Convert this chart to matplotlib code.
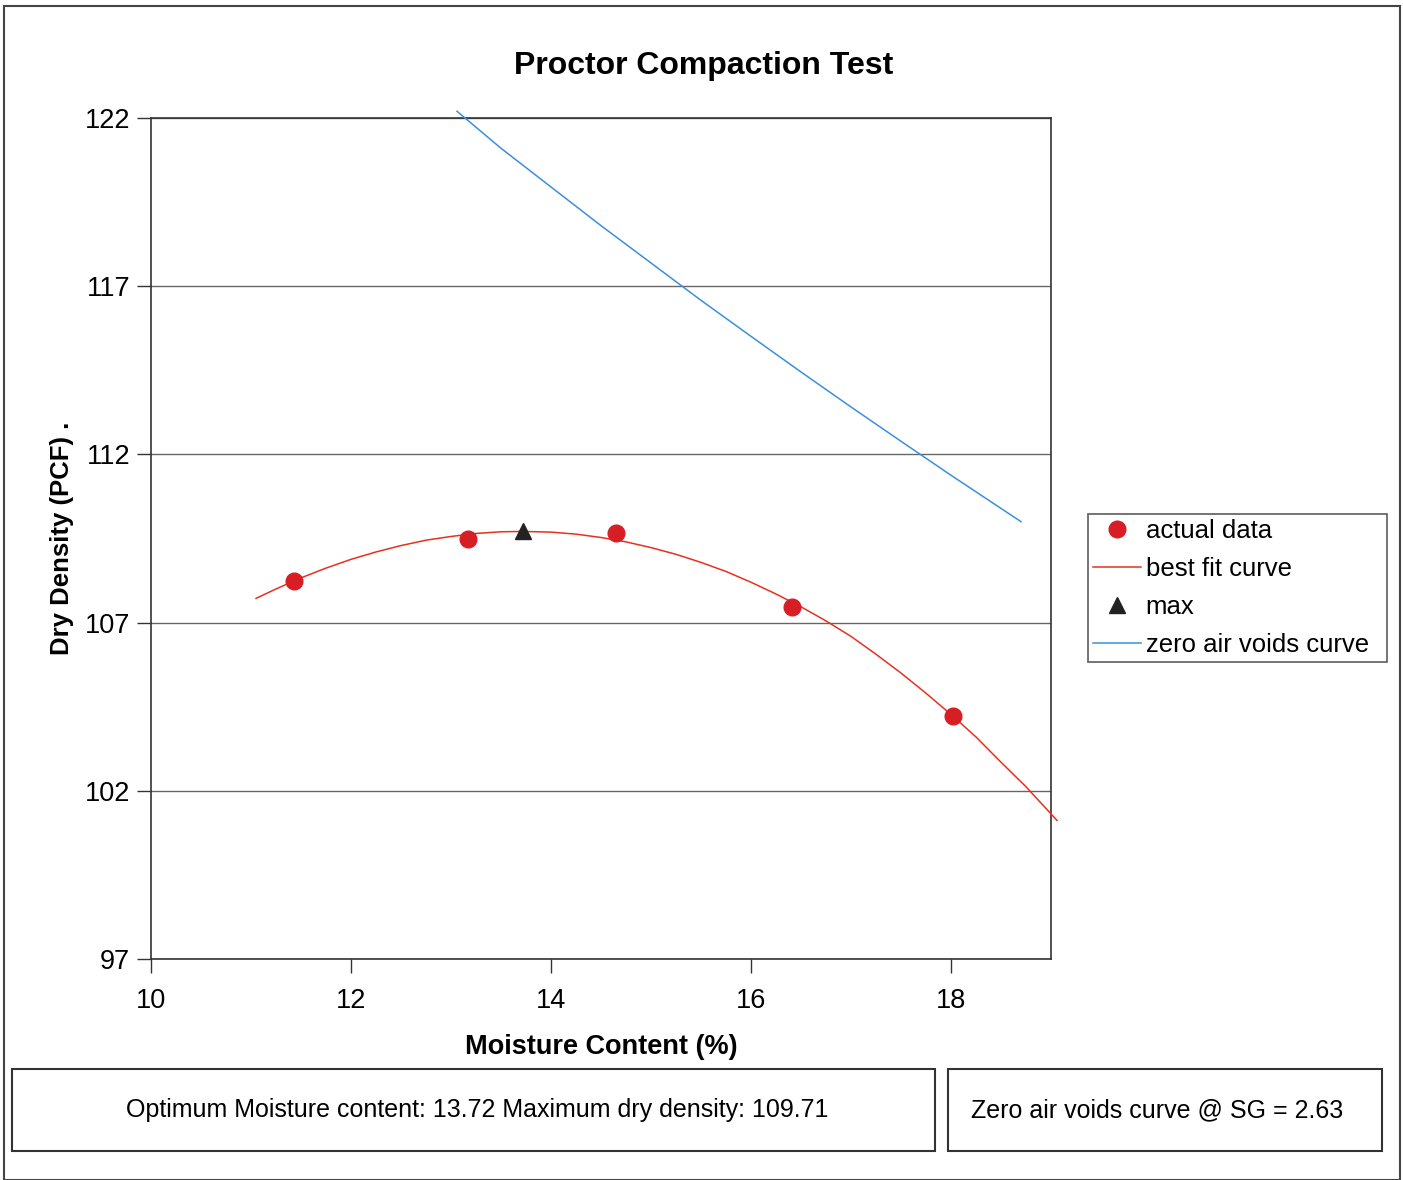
import matplotlib
matplotlib.use("Agg")
import matplotlib.pyplot as plt
from matplotlib.patches import Rectangle

plt.rcParams['font.family'] = ['Liberation Sans', 'DejaVu Sans']

# measured points
moisture = [11.43, 13.17, 14.65, 16.41, 18.02]
density = [108.25, 109.50, 109.67, 107.47, 104.23]

# best fit curve
fit_x = [11.05, 11.25, 11.5, 11.75, 12.0, 12.25, 12.5, 12.75, 13.0, 13.25,
         13.5, 13.72, 14.0, 14.25, 14.5, 14.75, 15.0, 15.25, 15.5, 15.75,
         16.0, 16.25, 16.5, 16.75, 17.0, 17.25, 17.5, 17.75, 18.0, 18.25,
         18.5, 18.75, 19.06]
fit_y = [107.72, 108.00, 108.33, 108.62, 108.88, 109.10, 109.29, 109.45,
         109.56, 109.65, 109.70, 109.71, 109.69, 109.63, 109.53, 109.40,
         109.23, 109.03, 108.79, 108.52, 108.20, 107.85, 107.47, 107.05,
         106.59, 106.06, 105.50, 104.90, 104.27, 103.60, 102.85, 102.12,
         101.12]

max_x = [13.72]
max_y = [109.71]

# zero air voids curve (SG = 2.63)
zav_x = [13.06, 13.5, 14.0, 14.5, 15.0, 15.5, 16.0, 16.5, 17.0, 17.5, 18.0, 18.7]
zav_y = [122.2, 121.1, 119.95, 118.8, 117.69, 116.58, 115.51, 114.45,
         113.41, 112.39, 111.38, 110.0]

x_ticks = [10, 12, 14, 16, 18]
y_ticks = [97, 102, 107, 112, 117, 122]

W, H = 1403, 1180
fig = plt.figure(figsize=(W / 100, H / 100), dpi=100)
ax = fig.add_axes([151 / W, 1 - 959 / H, 900 / W, 841 / H])

ax.plot(moisture, density, 'o', color='#d81e25', markersize=12,
        label='actual data', zorder=4)
ax.plot(fit_x, fit_y, '-', color='#e8301f', lw=1.1, label='best fit curve',
        clip_on=False, zorder=3)
ax.plot(max_x, max_y, '^', color='#222222', markersize=12, label='max', zorder=5)
ax.plot(zav_x, zav_y, '-', color='#3c8ee0', lw=1.1,
        label='zero air voids curve', clip_on=False, zorder=3)

ax.set_xlim(10, 19)
ax.set_ylim(97, 122)
ax.set_xticks(x_ticks)
ax.set_yticks(y_ticks)
ax.tick_params(labelsize=19.5, length=10, width=1, color='#333333')
ax.tick_params(axis='y', pad=5)
ax.tick_params(axis='x', pad=11)
ax.grid(axis='y', color='#666666', lw=1)
for s in ax.spines.values():
    s.set_color('#333333')
    s.set_linewidth(1.2)

fig.text(704 / W, 1 - 66 / H, 'Proctor Compaction Test', fontsize=23,
         fontweight='bold', ha='center', va='center')
ax.set_xlabel('Moisture Content (%)', fontsize=19.5, fontweight='bold', labelpad=14)
ax.set_ylabel('Dry Density (PCF) .', fontsize=18.5, fontweight='bold', labelpad=8)

leg = ax.legend(loc='center left', bbox_to_anchor=(1088 / W, 1 - 665 / H, 299 / W, 154 / H),
                bbox_transform=fig.transFigure, fontsize=18.5, frameon=True,
                fancybox=False, edgecolor='#333333', borderpad=0.2,
                labelspacing=0.55, handlelength=1.85, handletextpad=0.2,
                mode='expand', borderaxespad=0)
leg.get_frame().set_linewidth(1.2)

# outer frame and bottom info boxes
fig.patches.append(Rectangle((4 / W, 0), 1396 / W, 1 - 6 / H, transform=fig.transFigure,
                             fill=False, edgecolor='#444444', lw=1.5))
fig.patches.append(Rectangle((12 / W, 1 - 1151 / H), 923 / W, 82 / H,
                             transform=fig.transFigure, fill=False,
                             edgecolor='#333333', lw=1.5))
fig.patches.append(Rectangle((948 / W, 1 - 1151 / H), 434 / W, 82 / H,
                             transform=fig.transFigure, fill=False,
                             edgecolor='#333333', lw=1.5))
fig.text(477 / W, 1 - 1110 / H,
         'Optimum Moisture content: 13.72 Maximum dry density: 109.71',
         ha='center', va='center', fontsize=18)
fig.text(1157 / W, 1 - 1110 / H, 'Zero air voids curve @ SG = 2.63',
         ha='center', va='center', fontsize=18)

fig.savefig('out.png', dpi=100)
